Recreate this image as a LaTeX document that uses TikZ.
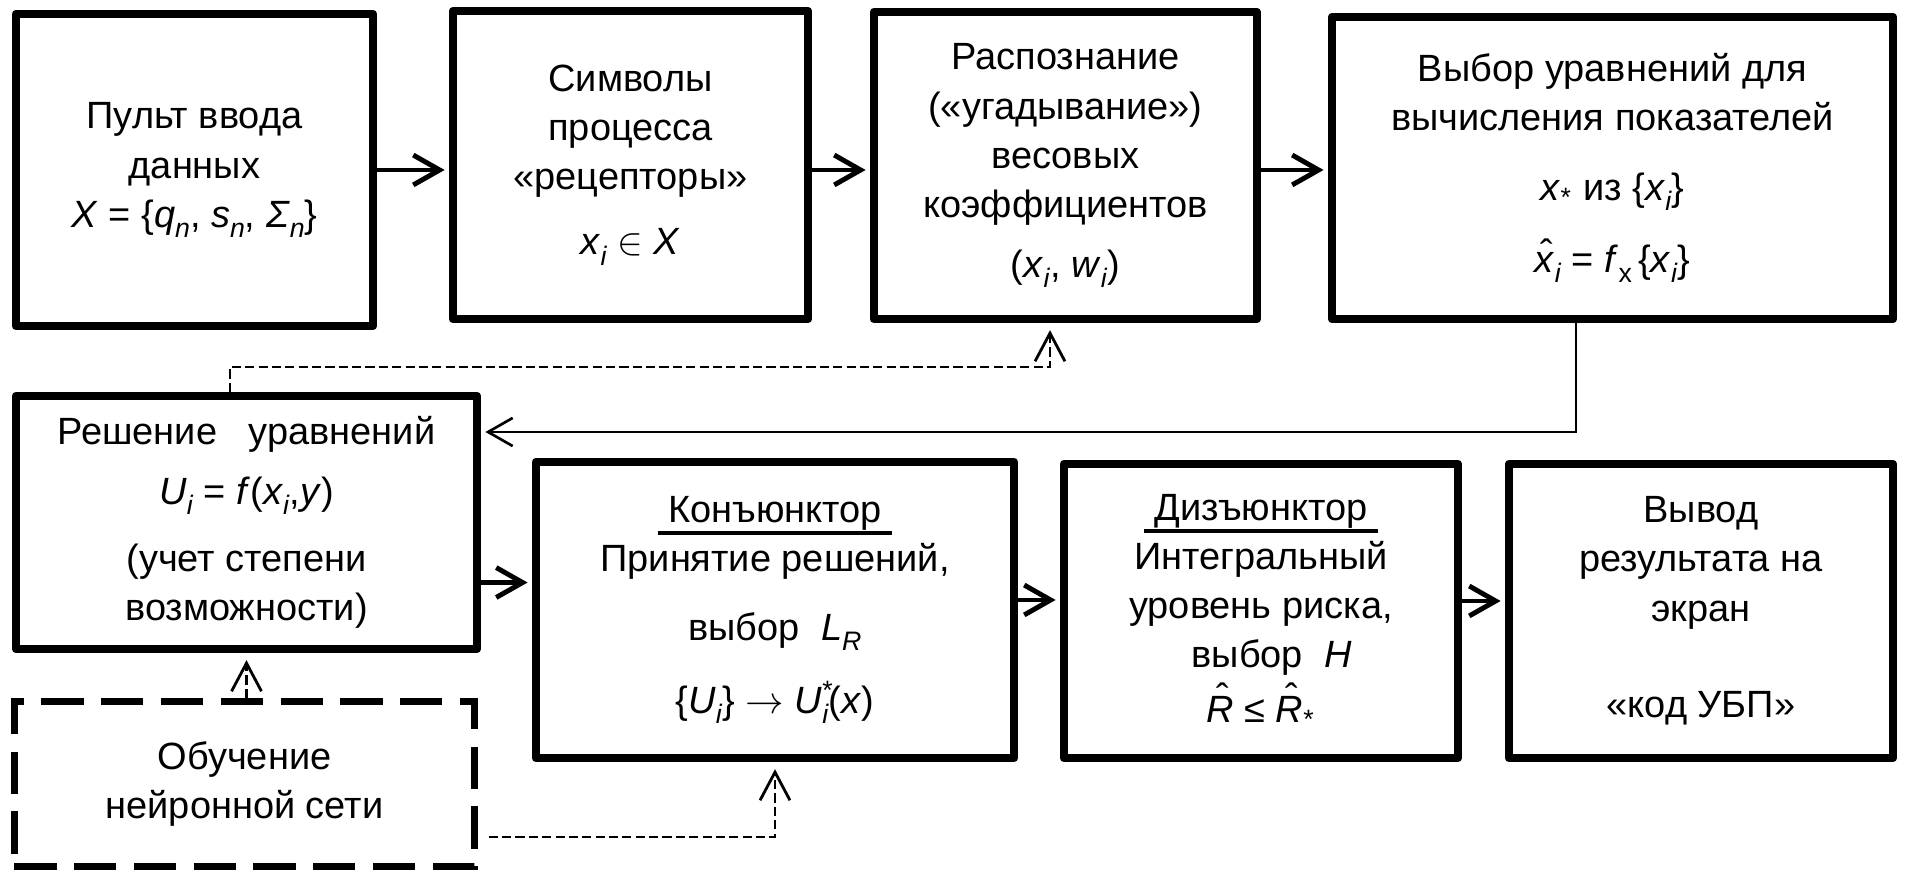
\documentclass[tikz,border=0pt]{standalone}
\usepackage{fontspec}
\setmainfont{Liberation Sans}
\usetikzlibrary{arrows.meta}

\newcommand{\boxfont}{\fontsize{10.8pt}{14pt}\selectfont\lineskiplimit=-20pt\relax}
\newcommand{\iv}[1]{\textit{#1}}
\newcommand{\isub}[1]{\raisebox{-0.5ex}{\fontsize{7.6pt}{8pt}\selectfont\textit{#1}}}
\newcommand{\usub}[1]{\raisebox{-0.5ex}{\fontsize{7.6pt}{8pt}\selectfont #1}}
\newcommand{\hatv}[2]{\ooalign{\iv{#2}\cr\hidewidth\raisebox{#1}{\kern0.12em ˆ}\hidewidth\cr}}
\newsavebox{\ulbox}
\newcommand{\ulword}[1]{\sbox{\ulbox}{\ #1\ }\rlap{\vrule height -2.6pt depth 3.7pt width \wd\ulbox}\usebox{\ulbox}}

\begin{document}
\begin{tikzpicture}[x=0.01cm, y=-0.01cm,
		font=\boxfont,
		box/.style={draw, line width=2.3pt, line join=round, align=center, inner sep=0pt},
		dbox/.style={draw, line width=2pt, dash pattern=on 12pt off 5pt, align=center, inner sep=0pt},
		arr/.style={-{Straight Barb[length=7.5pt, width=8.5pt]}, line width=1.4pt, shorten >=1.2pt},
		thinarr/.style={-{Straight Barb[length=7pt, width=8pt]}, line width=0.75pt, shorten >=1.2pt},
		dasharr/.style={-{Straight Barb[length=8pt, width=8.5pt]}, line width=0.8pt, dash pattern=on 2.6pt off 1.2pt, shorten >=2pt}]

			\useasboundingbox (0,0) rectangle (1908,880);

			% top row
			\node[box, minimum width=3.57cm, minimum height=3.12cm] (pult) at (194.5,170)
				{Пульт ввода\\данных\\\iv{X} = \{\iv{q}\isub{n}, \iv{s}\isub{n}, \iv{Σ}\isub{n}\}};
			\node[box, minimum width=3.55cm, minimum height=3.08cm] (simv) at (630.5,165)
				{Символы\\процесса\\«рецепторы»\\[4.5pt]\iv{x}\isub{i} $\in$ \iv{X}};
			\node[box, minimum width=3.83cm, minimum height=3.07cm] (rasp) at (1065.5,165.5)
				{Распознание\\(«угадывание»)\\весовых\\коэффициентов\\[3pt](\iv{x}\isub{i}, \iv{w}\isub{i})};
			\node[box, minimum width=5.61cm, minimum height=3.02cm] (vybor) at (1612.5,168)
				{Выбор уравнений для\\вычисления показателей\\[6pt]\iv{x}\textsubscript{*} из \{\iv{x}\isub{i}\}\\[6.5pt]\hatv{0.18em}{x}\isub{i} = \iv{f}\usub{x}\,\{\iv{x}\isub{i}\}};

			% bottom row
			\node[box, minimum width=4.61cm, minimum height=2.53cm] (resh) at (246.5,522.5)
				{Решение\ \ \ уравнений\\[3pt]\iv{U}\isub{i} = \iv{f}(\iv{x}\isub{i},\iv{y})\\[5pt](учет степени\\возможности)};
			\node[box, minimum width=4.78cm, minimum height=2.96cm] (konj) at (775,610)
				{\ulword{Конъюнктор}\\Принятие решений,\\[5.5pt]выбор\ \ \iv{L}\isub{R}\\[7pt]\{\iv{U}\isub{i}\} $\rightarrow$ \iv{U}\rlap{\textsuperscript{*}}\isub{i}(\iv{x})};
			\node[box, minimum width=3.94cm, minimum height=2.94cm] (dizj) at (1261,611)
				{\ulword{Дизъюнктор}\\Интегральный\\уровень риска,\\\ \ выбор\ \ \iv{H}\\[1.5pt]\hatv{0.3em}{R} ≤ \hatv{0.3em}{R}\textsubscript{*}};
			\node[box, minimum width=3.84cm, minimum height=2.94cm] (vyvod) at (1701,611)
				{Вывод\\результата на\\экран\\[13.5pt]«код УБП»};
			\node[dbox, minimum width=4.6cm, minimum height=1.65cm] (obuch) at (244.5,784)
				{Обучение\\нейронной сети};

			% connectors
			\draw[arr] (pult.east) -- (pult.east -| simv.west);
			\draw[arr] (simv.east |- pult.east) -- (rasp.west |- pult.east);
			\draw[arr] (rasp.east |- pult.east) -- (vybor.west |- pult.east);

			\coordinate (back) at (1576,432);
			\draw[thinarr] (vybor.south -| back) -- (back) -- (back -| resh.east);

			\coordinate (tl) at (230,367);
			\coordinate (tr) at (1050,367);
			\draw[dasharr] (resh.north -| tl) -- (tl) -- (tr) -- (tr |- rasp.south);

			\draw[arr] ([yshift=-0.6cm]resh.east) -- ([yshift=-0.6cm]resh.east -| konj.west);
			\draw[arr] ([yshift=0.1cm]konj.east) -- ([yshift=0.1cm]konj.east -| dizj.west);
			\draw[arr] ([yshift=0.1cm]dizj.east) -- ([yshift=0.1cm]dizj.east -| vyvod.west);

			\draw[dasharr] (obuch.north -| resh.south) -- (resh.south);
			\coordinate (bl) at (775,837);
			\draw[dasharr, shorten <=3pt] (bl -| obuch.east) -- (bl) -- (konj.south);
		\end{tikzpicture}
\end{document}
